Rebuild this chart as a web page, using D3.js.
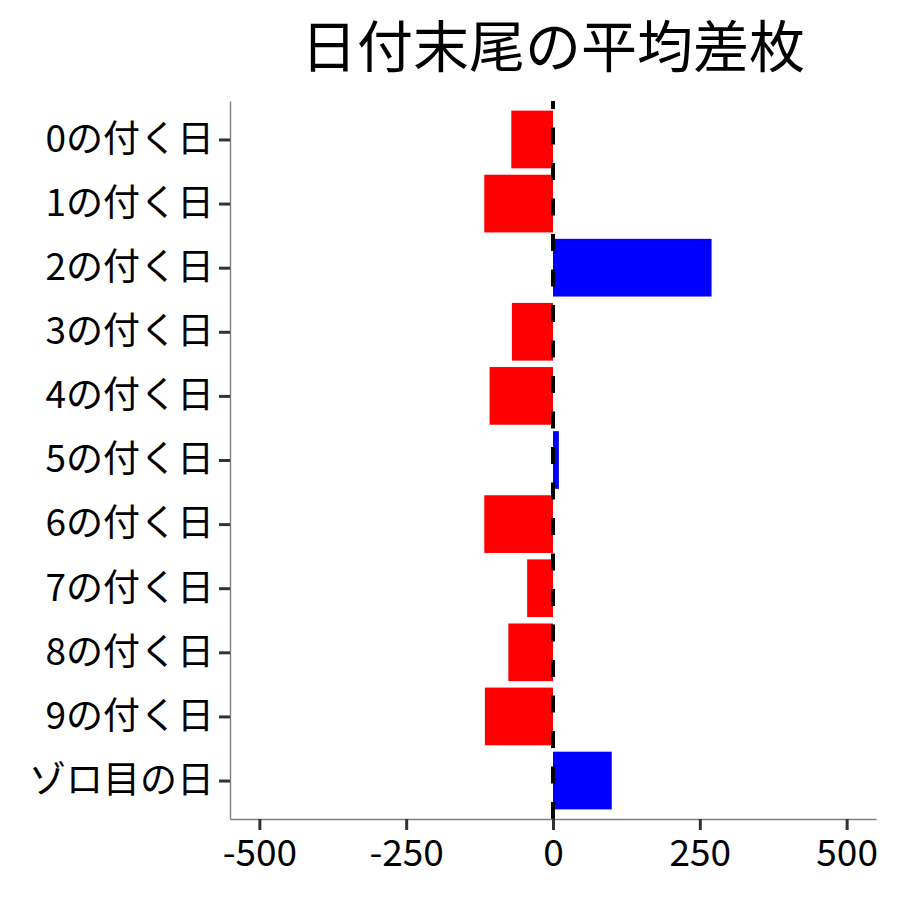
<!DOCTYPE html>
<html><head><meta charset="utf-8">
<script src="https://cdn.jsdelivr.net/npm/d3@7"></script>
<style>body{margin:0;background:#fff}</style>
</head><body>
<script>
const categories = ["0の付く日","1の付く日","2の付く日","3の付く日","4の付く日","5の付く日","6の付く日","7の付く日","8の付く日","9の付く日","ゾロ目の日"];
const values = [-71, -117, 270, -70, -108, 10, -117, -44, -76, -116, 100];
const xTicks = [-500, -250, 0, 250, 500];
const title = "日付末尾の平均差枚";

const W = 900, H = 900;
const m = {left: 230, right: 24, top: 101, bottom: 81};
const font = "'Noto Sans CJK JP', 'Noto Sans', sans-serif";
const svg = d3.select("body").append("svg").attr("width", W).attr("height", H);
svg.append("rect").attr("width", W).attr("height", H).attr("fill", "#fff");

const x = d3.scaleLinear().domain([-550, 550]).range([m.left, W - m.right]);
const y = d3.scalePoint().domain(categories).range([m.top, H - m.bottom]).padding(0.6);
const bh = y.step() * 0.9;

svg.append("g").selectAll("rect").data(categories).join("rect")
  .attr("x", (d, i) => x(Math.min(0, values[i])))
  .attr("width", (d, i) => Math.abs(x(values[i]) - x(0)))
  .attr("y", d => y(d) - bh / 2)
  .attr("height", bh)
  .attr("fill", (d, i) => values[i] < 0 ? "#ff0000" : "#0000ff");

// dashed zero line
svg.append("line")
  .attr("x1", x(0)).attr("x2", x(0))
  .attr("y1", H - m.bottom).attr("y2", m.top)
  .attr("stroke", "#000").attr("stroke-width", 4)
  .attr("stroke-dasharray", "17,18.5");

// axes
const xAxis = svg.append("g").attr("transform", `translate(0,${H - m.bottom})`)
  .call(d3.axisBottom(x).tickValues(xTicks).tickSize(11).tickSizeOuter(0).tickPadding(6).tickFormat(d3.format("d")));
const yAxis = svg.append("g").attr("transform", `translate(${m.left},0)`)
  .call(d3.axisLeft(y).tickSize(11).tickSizeOuter(0).tickPadding(5));
[xAxis, yAxis].forEach(g => {
  g.select(".domain").attr("stroke", "#7f7f7f").attr("stroke-width", 1.4);
  g.selectAll(".tick line").attr("stroke", "#333").attr("stroke-width", 3);
  g.selectAll(".tick text").attr("fill", "#000").style("font-family", font).style("font-size", "37px");
});
xAxis.selectAll(".tick text").text(d => d < 0 ? "-" + Math.abs(d) : d);
xAxis.selectAll(".tick text").attr("dy", "0.8em");

svg.append("text").attr("x", (m.left + W - m.right) / 2).attr("y", 67)
  .attr("text-anchor", "middle").style("font-family", font).style("font-size", "56px")
  .attr("fill", "#000").text(title);
</script>
</body></html>
